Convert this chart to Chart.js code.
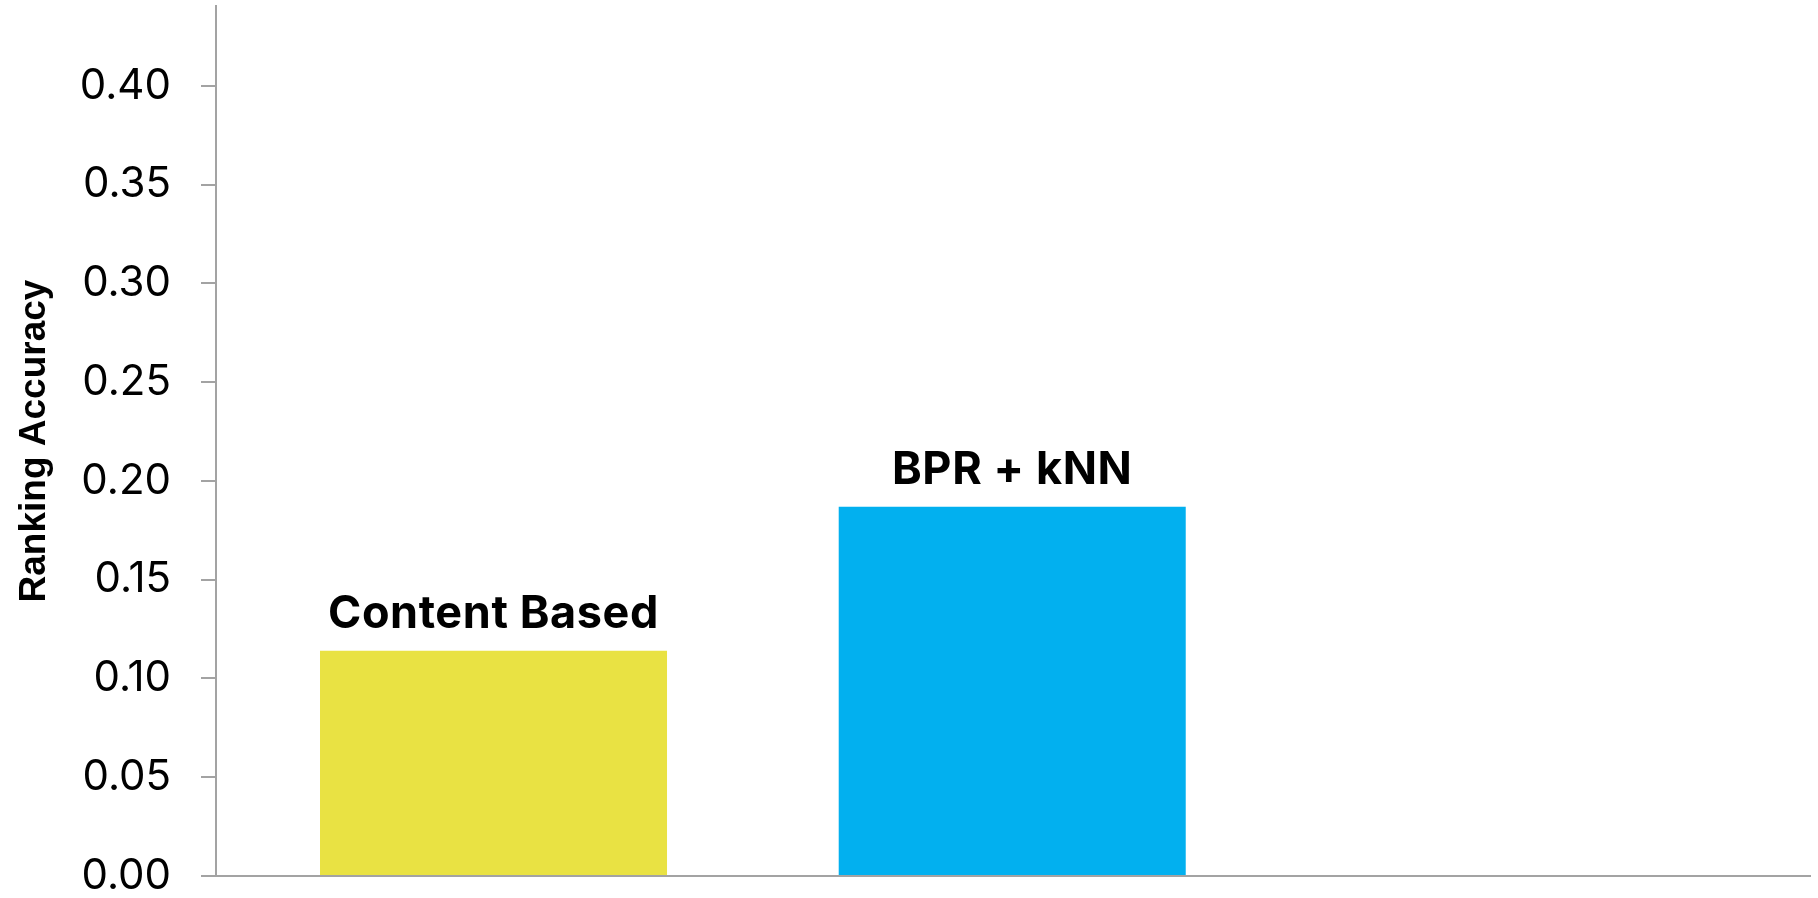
<!DOCTYPE html>
<html>
<head>
<meta charset="utf-8">
<script src="https://cdn.jsdelivr.net/npm/chart.js@4/dist/chart.umd.min.js"></script>
<style>
  html, body { margin: 0; padding: 0; background: #ffffff; }
  #wrap { width: 1818px; height: 898px; }
</style>
</head>
<body>
<div id="wrap"><canvas id="c" width="1818" height="898"></canvas></div>
<script>
const categories = ['Content Based', 'BPR + kNN'];
const positions = [0, 1];
const accuracy = [0.114, 0.187];
const barColors = ['#E9E243', '#02B0EF'];
const yTickValues = [0, 0.05, 0.10, 0.15, 0.20, 0.25, 0.30, 0.35, 0.40];
const yAxisTitle = 'Ranking Accuracy';

const AXIS_COLOR = '#a3a3a3';

const barLabels = {
  id: 'barLabels',
  afterDatasetsDraw(chart) {
    const ctx = chart.ctx;
    const meta = chart.getDatasetMeta(0);
    ctx.save();
    ctx.font = 'bold 45px Inter, "Noto Sans", sans-serif';
    try { ctx.letterSpacing = '0.6px'; } catch (e) {}
    ctx.fillStyle = '#000';
    ctx.textAlign = 'center';
    ctx.textBaseline = 'alphabetic';
    meta.data.forEach((bar, i) => {
      ctx.fillText(categories[i], bar.x, bar.y - 23);
    });
    ctx.restore();
  }
};

new Chart(document.getElementById('c'), {
  type: 'bar',
  data: {
    datasets: [{
      data: positions.map((p, i) => ({ x: p, y: accuracy[i] })),
      backgroundColor: barColors,
      borderWidth: 0,
      categoryPercentage: 1,
      barPercentage: 0.669
    }]
  },
  options: {
    responsive: false,
    animation: false,
    devicePixelRatio: 1,
    layout: { padding: { top: 6, right: 8, bottom: 0, left: 0 } },
    plugins: {
      legend: { display: false },
      tooltip: { enabled: false }
    },
    scales: {
      x: {
        type: 'linear',
        offset: false,
        min: -0.535,
        max: 2.538,
        afterBuildTicks: (axis) => { axis.ticks = positions.map(v => ({ value: v })); },
        ticks: { display: false },
        grid: { display: false, drawTicks: false },
        border: { display: true, color: AXIS_COLOR, width: 2 },
        afterFit: (axis) => { axis.height = 22; axis.paddingLeft = 0; axis.paddingRight = 0; }
      },
      y: {
        min: 0,
        max: 0.4405,
        afterBuildTicks: (axis) => { axis.ticks = yTickValues.map(v => ({ value: v })); },
        afterFit: (axis) => { axis.width = 216; axis.paddingTop = 0; axis.paddingBottom = 0; },
        ticks: {
          color: '#000',
          padding: 30,
          font: { family: 'Inter, "Noto Sans", sans-serif', size: 42 },
          callback: (v) => Number(v).toFixed(2)
        },
        grid: {
          drawOnChartArea: false,
          drawTicks: true,
          tickLength: 15,
          color: AXIS_COLOR,
          lineWidth: 2
        },
        border: { display: true, color: AXIS_COLOR, width: 2 },
        title: {
          display: true,
          text: yAxisTitle,
          color: '#000',
          font: { family: '"Liberation Sans", Arial, sans-serif', size: 37, weight: 'bold' },
          padding: { top: 13, bottom: 0 }
        }
      }
    }
  },
  plugins: [barLabels]
});
</script>
</body>
</html>
